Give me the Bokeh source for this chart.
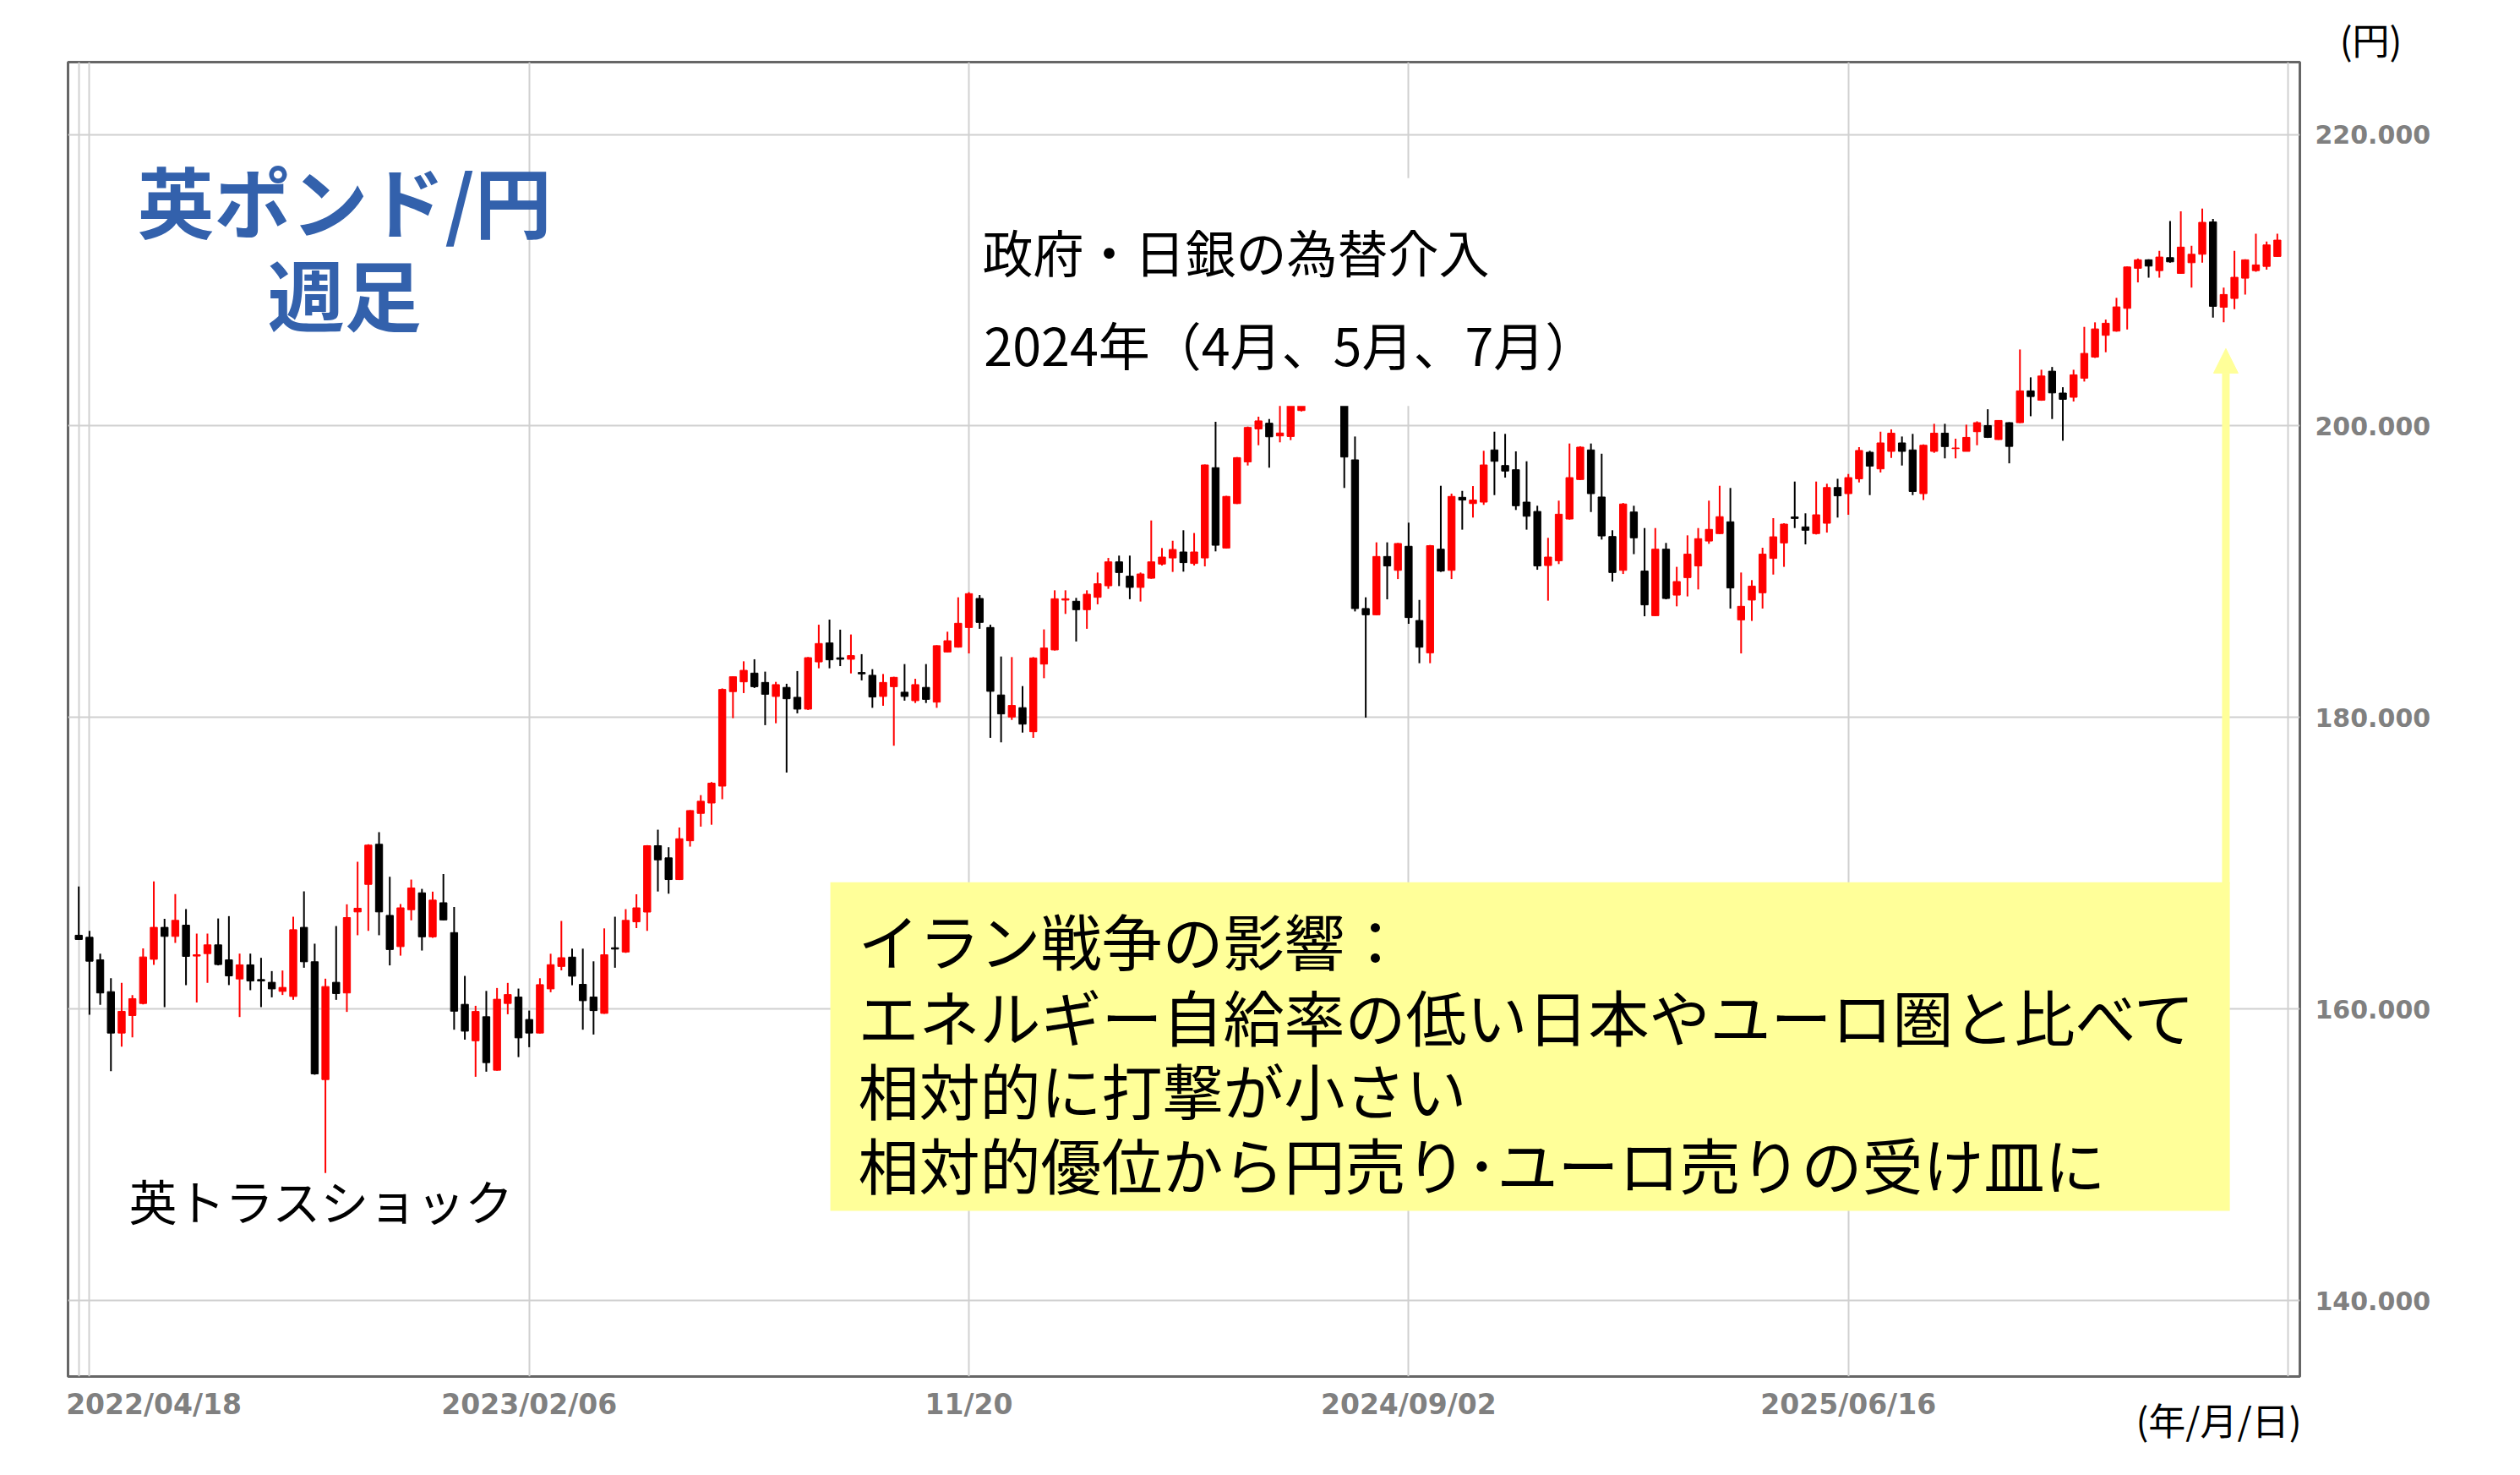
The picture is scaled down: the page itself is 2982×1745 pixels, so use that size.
import pandas as pd
from bokeh.plotting import figure
from bokeh.models import (Range1d, FixedTicker, PrintfTickFormatter, ColumnDataSource,
                          BoxAnnotation, Label, Arrow, NormalHead)
from bokeh.embed import file_html
from bokeh.resources import INLINE

# ---------------- data (weekly GBP/JPY candles) ----------------
start_date = "2022-04-18"

open_ = [165.07, 164.93, 163.38, 161.20, 158.36, 159.56, 160.39, 163.42, 165.61, 164.99,
         165.76, 163.64, 163.81, 164.41, 163.38, 162.07, 163.04, 162.03, 161.84, 161.22,
         160.87, 165.61, 163.25, 155.17, 161.84, 161.11, 166.67, 168.56, 171.31, 166.43,
         164.29, 166.82, 167.98, 164.96, 167.30, 165.25, 160.33, 157.83, 159.48, 155.81,
         160.39, 160.83, 159.29, 158.36, 161.39, 162.93, 163.57, 161.70, 160.83, 159.71,
         164.21, 163.92, 165.99, 166.66, 171.21, 170.38, 168.89, 171.55, 173.43, 174.14,
         175.30, 181.78, 182.45, 183.05, 182.41, 181.45, 182.07, 181.39, 180.58, 183.82,
         185.12, 184.10, 184.00, 183.09, 182.90, 181.45, 182.12, 181.74, 181.16, 182.07,
         181.06, 184.50, 184.83, 186.18, 188.17, 186.18, 181.55, 180.04, 180.68, 179.03,
         183.67, 184.64, 188.06, 187.98, 187.40, 188.25, 189.04, 190.68, 189.70, 188.93,
         189.56, 190.53, 190.95, 191.36, 190.57, 190.95, 197.14, 191.63, 194.68, 197.54,
         199.80, 200.19, 199.32, 199.28, 201.06, 203.30, 205.40, 206.30, 203.50, 197.68,
         187.48, 187.05, 191.05, 190.10, 191.75, 186.66, 184.44, 191.55, 190.10, 195.11,
         194.68, 194.78, 198.36, 197.29, 197.00, 194.78, 194.14, 190.43, 190.76, 193.62,
         196.33, 198.36, 195.13, 192.42, 190.10, 194.10, 190.05, 186.99, 191.55, 188.40,
         189.60, 190.40, 192.11, 192.62, 193.43, 186.70, 188.06, 188.56, 190.92, 191.98,
         193.76, 193.08, 192.62, 193.33, 195.78, 195.36, 196.38, 198.20, 197.06, 198.26,
         198.84, 198.36, 195.36, 198.26, 199.51, 198.45, 198.26, 199.61, 200.03, 199.07,
         200.23, 200.23, 202.41, 201.77, 203.76, 202.26, 201.97, 203.28, 204.73, 206.22,
         206.51, 208.07, 210.82, 211.40, 210.66, 211.55, 210.47, 211.20, 211.78, 214.00,
         208.15, 208.75, 210.14, 210.66, 210.95, 211.63]

high = [168.41, 165.37, 163.81, 162.13, 161.80, 160.97, 164.16, 168.76, 166.19, 167.89,
        166.86, 165.18, 165.18, 166.22, 166.38, 163.81, 163.81, 163.52, 162.61, 162.65,
        166.34, 168.08, 164.49, 162.09, 165.70, 167.19, 170.11, 171.31, 172.14, 169.08,
        167.21, 168.89, 168.25, 168.06, 169.27, 167.01, 162.28, 160.23, 161.25, 161.45,
        161.80, 161.41, 159.90, 162.12, 163.80, 166.05, 164.15, 164.15, 163.28, 165.54,
        166.34, 166.86, 167.88, 171.25, 172.31, 171.11, 172.46, 173.65, 174.68, 175.58,
        182.00, 182.83, 183.86, 184.00, 183.15, 182.45, 182.32, 183.19, 184.15, 186.37,
        186.72, 186.03, 185.70, 184.35, 183.32, 182.99, 182.80, 183.67, 182.66, 183.67,
        184.96, 185.89, 188.25, 188.60, 188.40, 186.37, 184.19, 184.15, 182.16, 184.15,
        186.05, 188.73, 188.73, 188.21, 188.73, 189.95, 190.95, 191.11, 191.11, 189.95,
        193.52, 191.63, 192.13, 192.85, 192.66, 197.36, 200.29, 195.21, 197.87, 199.96,
        200.64, 200.48, 201.60, 202.20, 203.60, 205.60, 208.10, 206.60, 204.30, 199.28,
        188.25, 192.02, 192.02, 191.98, 193.37, 188.07, 191.84, 195.90, 195.36, 195.55,
        195.88, 198.30, 199.61, 199.46, 198.26, 197.58, 194.53, 192.33, 194.88, 198.80,
        198.61, 198.80, 198.10, 192.85, 194.72, 194.53, 193.00, 193.00, 191.98, 190.34,
        192.50, 193.00, 194.88, 195.90, 195.75, 189.95, 189.43, 191.65, 193.68, 193.33,
        196.19, 194.01, 196.19, 196.04, 196.38, 196.71, 198.55, 198.30, 199.61, 199.77,
        199.28, 199.46, 198.74, 200.15, 200.15, 199.13, 200.09, 200.32, 201.15, 200.40,
        200.26, 205.25, 203.34, 203.86, 204.05, 202.66, 203.86, 206.80, 207.11, 207.30,
        208.79, 210.94, 211.49, 211.43, 212.01, 214.06, 214.72, 212.36, 214.91, 214.20,
        209.50, 212.01, 211.43, 213.19, 212.65, 213.19]

low = [164.74, 159.62, 160.29, 155.75, 157.43, 158.07, 160.33, 163.04, 160.14, 164.54,
       161.65, 160.45, 161.80, 163.00, 161.65, 159.46, 161.30, 160.14, 160.81, 160.97,
       160.64, 162.84, 155.50, 148.76, 160.64, 159.81, 165.07, 165.37, 165.07, 163.00,
       163.67, 166.09, 164.02, 164.89, 166.09, 158.59, 157.91, 155.36, 155.71, 155.78,
       159.65, 156.71, 157.39, 158.33, 161.16, 162.66, 161.64, 158.59, 158.26, 159.68,
       162.84, 163.86, 165.56, 165.37, 168.07, 167.92, 168.86, 171.15, 172.52, 172.65,
       174.40, 179.96, 181.68, 182.03, 179.48, 179.61, 176.23, 180.29, 180.52, 183.38,
       183.38, 183.53, 183.03, 182.55, 180.67, 180.81, 178.07, 181.16, 181.00, 181.00,
       180.67, 184.48, 184.80, 184.40, 186.09, 178.61, 178.30, 179.84, 178.97, 178.61,
       182.70, 184.60, 187.11, 185.22, 186.09, 187.77, 188.83, 189.02, 188.12, 187.96,
       189.52, 190.43, 189.99, 190.01, 190.43, 190.37, 191.40, 191.60, 194.65, 197.29,
       198.68, 197.14, 198.88, 199.03, 201.00, 202.90, 204.60, 202.50, 195.75, 187.28,
       180.00, 187.02, 188.11, 189.50, 186.43, 183.73, 183.73, 189.99, 189.50, 192.89,
       193.72, 194.59, 195.26, 196.46, 194.24, 192.89, 190.14, 188.02, 190.53, 193.58,
       196.30, 194.10, 192.21, 189.33, 189.85, 191.21, 186.95, 186.96, 188.11, 187.63,
       188.31, 188.79, 191.92, 192.59, 187.48, 184.40, 186.63, 187.48, 189.81, 190.34,
       193.00, 191.88, 192.56, 192.69, 193.72, 193.91, 196.13, 195.26, 196.81, 197.81,
       197.29, 195.26, 194.92, 198.16, 197.78, 197.78, 198.26, 198.68, 199.18, 199.05,
       197.44, 200.20, 200.67, 201.73, 200.48, 198.99, 201.68, 203.05, 204.67, 205.06,
       206.47, 206.62, 209.85, 210.18, 210.18, 211.20, 210.44, 209.50, 211.20, 207.43,
       207.11, 208.01, 209.02, 210.58, 210.72, 211.59]

close = [164.78, 163.29, 161.11, 158.36, 159.85, 160.72, 163.58, 165.61, 164.99, 166.09,
         163.62, 163.73, 164.41, 163.06, 162.28, 163.04, 161.93, 161.93, 161.39, 161.49,
         165.45, 163.25, 155.56, 161.55, 161.07, 166.28, 166.92, 171.25, 166.67, 164.09,
         166.95, 168.31, 164.96, 167.48, 166.12, 159.86, 158.49, 159.84, 156.33, 160.68,
         161.00, 158.03, 158.36, 161.68, 163.05, 163.53, 162.26, 160.58, 159.90, 163.73,
         164.12, 166.09, 166.95, 171.21, 170.24, 168.89, 171.69, 173.62, 174.26, 175.50,
         181.93, 182.80, 183.24, 182.12, 181.60, 182.26, 181.29, 180.58, 184.11, 185.08,
         183.96, 184.00, 184.25, 183.00, 181.41, 182.41, 182.76, 181.45, 182.26, 181.25,
         184.93, 185.27, 186.47, 188.50, 186.53, 181.80, 180.25, 180.83, 179.55, 184.09,
         184.77, 188.15, 188.15, 187.40, 188.46, 189.18, 190.68, 189.95, 188.93, 189.85,
         190.68, 191.01, 191.53, 190.63, 191.36, 197.33, 191.82, 195.17, 197.83, 199.90,
         200.35, 199.26, 199.52, 201.90, 203.30, 205.40, 206.30, 203.50, 197.87, 187.48,
         187.05, 191.05, 190.40, 191.94, 186.86, 184.83, 191.79, 190.05, 195.17, 194.92,
         194.92, 197.33, 197.58, 196.91, 194.53, 193.81, 190.40, 191.01, 193.95, 196.46,
         198.55, 195.36, 192.46, 189.95, 194.65, 192.33, 187.73, 191.55, 188.17, 189.33,
         191.21, 192.27, 192.91, 193.78, 188.89, 187.63, 189.02, 191.21, 192.40, 193.27,
         193.66, 192.85, 193.91, 195.78, 195.21, 196.46, 198.32, 197.25, 198.84, 199.51,
         198.26, 195.51, 198.68, 199.51, 198.59, 198.49, 199.22, 200.23, 199.22, 200.38,
         198.60, 202.41, 202.02, 203.43, 202.27, 201.83, 203.51, 204.98, 206.66, 207.05,
         208.17, 210.91, 211.40, 210.97, 211.59, 211.26, 212.27, 211.78, 213.97, 208.21,
         209.02, 210.20, 211.40, 211.05, 212.42, 212.75]

tick_dates = ["2022-04-18", "2023-02-06", "2023-11-20", "2024-09-02", "2025-06-16"]
tick_labels = ["2022/04/18", "2023/02/06", "11/20", "2024/09/02", "2025/06/16"]
grid_dates = ["2022-04-18", "2022-04-25", "2023-02-06", "2023-11-20",
              "2024-09-02", "2025-06-16", "2026-03-30"]
y_ticks = [140, 160, 180, 200, 220]

title_lines = ["英ポンド/円", "週足"]
intervention_lines = ["政府・日銀の為替介入", "2024年（4月、5月、7月）"]
truss_text = "英トラスショック"
note_lines = ["イラン戦争の影響：",
              "エネルギー自給率の低い日本やユーロ圏と比べて",
              "相対的に打撃が小さい",
              "相対的優位から円売り･ユーロ売りの受け皿に"]
y_unit = "(円)"
x_unit = "(年/月/日)"

# ---------------- derived ----------------
n = len(open_)
t0 = pd.Timestamp(start_date)


def week_pos(d):
    return (pd.Timestamp(d) - t0).days / 7.0


xs = list(range(n))
colors = ["#FF0000" if c >= o else "#000000" for o, c in zip(open_, close)]
src = ColumnDataSource(dict(
    x=xs, h=high, l=low,
    top=[max(o, c) for o, c in zip(open_, close)],
    bottom=[min(o, c) for o, c in zip(open_, close)],
    color=colors,
))

FONT_JP = "Noto Sans CJK JP"
FONT_AX = "DejaVu Sans"
W, H = 2966, 1720

p = figure(width=W, height=H,
           x_range=Range1d(-1.0, 207.1), y_range=Range1d(134.8, 224.96),
           y_axis_location="right", toolbar_location=None, output_backend="svg",
           min_border_left=80, min_border_right=245, min_border_top=73,
           min_border_bottom=92)
p.background_fill_color = "white"
p.border_fill_color = "white"
p.outline_line_color = "#666666"
p.outline_line_width = 3

# grids
p.xgrid.ticker = FixedTicker(ticks=[week_pos(d) for d in grid_dates])
p.ygrid.ticker = FixedTicker(ticks=y_ticks)
for g in (p.xgrid[0], p.ygrid[0]):
    g.grid_line_color = "#d0d0d0"
    g.grid_line_width = 2

# x axis (first label nudged right so it stays inside the page, as in the original)
tick_pos = [week_pos(d) for d in tick_dates]
tick_pos[0] = tick_pos[0] + 7
xa = p.xaxis[0]
xa.ticker = FixedTicker(ticks=tick_pos)
xa.major_label_overrides = {tp: lab for tp, lab in zip(tick_pos, tick_labels)}
xa.major_label_text_font = FONT_AX
xa.major_label_text_font_style = "bold"
xa.major_label_text_font_size = "33px"
xa.major_label_text_color = "#808080"
xa.major_label_standoff = 7
xa.major_tick_line_color = None
xa.minor_tick_line_color = None
xa.axis_line_color = None

ya = p.yaxis[0]
ya.ticker = FixedTicker(ticks=y_ticks)
ya.formatter = PrintfTickFormatter(format="%.3f")
ya.major_label_text_font = FONT_AX
ya.major_label_text_font_style = "bold"
ya.major_label_text_font_size = "30px"
ya.major_label_text_color = "#808080"
ya.major_label_standoff = 12
ya.major_tick_line_color = None
ya.minor_tick_line_color = None
ya.axis_line_color = None

# candles
p.segment(x0="x", y0="h", x1="x", y1="l", source=src, line_color="color", line_width=2)
p.vbar(x="x", width=0.66, top="top", bottom="bottom", source=src,
       fill_color="color", line_color="color", line_width=1)

# white backing behind the intervention note
p.add_layout(BoxAnnotation(left=83.7, right=144.4, bottom=201.38, top=217.0,
                           fill_color="white", fill_alpha=1.0, line_color=None,
                           level="annotation"))
# yellow note box
p.add_layout(BoxAnnotation(left=70.08, right=200.57, bottom=146.16, top=168.71,
                           fill_color="#FFFF99", fill_alpha=1.0, line_color=None,
                           level="annotation"))
# arrow
p.add_layout(Arrow(end=NormalHead(size=29, fill_color="#FFFF99", line_color="#FFFF99"),
                   x_start=200.2, y_start=168.6, x_end=200.2, y_end=205.31,
                   line_color="#FFFF99", line_width=9))


def make_label(text, x, y, size, color="black", align="left", bold=False, font=FONT_JP,
               units="data"):
    return Label(x=x, y=y, text=text, text_font=font,
                 x_units=units, y_units=units,
                 text_font_size=f"{size}px", text_color=color,
                 text_align=align, text_baseline="middle",
                 text_font_style="bold" if bold else "normal")


def txt(*args, **kw):
    p.add_layout(make_label(*args, **kw))


# title
txt(title_lines[0], 24.78, 215.61, 91, color="#3361AC", align="center", bold=True)
txt(title_lines[1], 24.78, 209.23, 91, color="#3361AC", align="center", bold=True)

# intervention note
txt(intervention_lines[0], 84.26, 212.05, 60)
txt(intervention_lines[1], 84.4, 205.64, 61)

# Truss shock
txt(truss_text, 4.67, 146.94, 57)

# yellow note text
for line, yy in zip(note_lines, [164.83, 159.64, 154.57, 149.48]):
    txt(line, 72.68, yy, 72)

# unit labels: outside the frame, so they go into side panels (not clipped);
# canvas units are measured from the canvas top-left corner
p.add_layout(make_label(y_unit, 2805, 45, 44, align="center", units="canvas"), "right")
p.add_layout(make_label(x_unit, 2625, 1678, 44, align="center", units="canvas"), "above")

open("out.html", "w").write(file_html(p, INLINE))
